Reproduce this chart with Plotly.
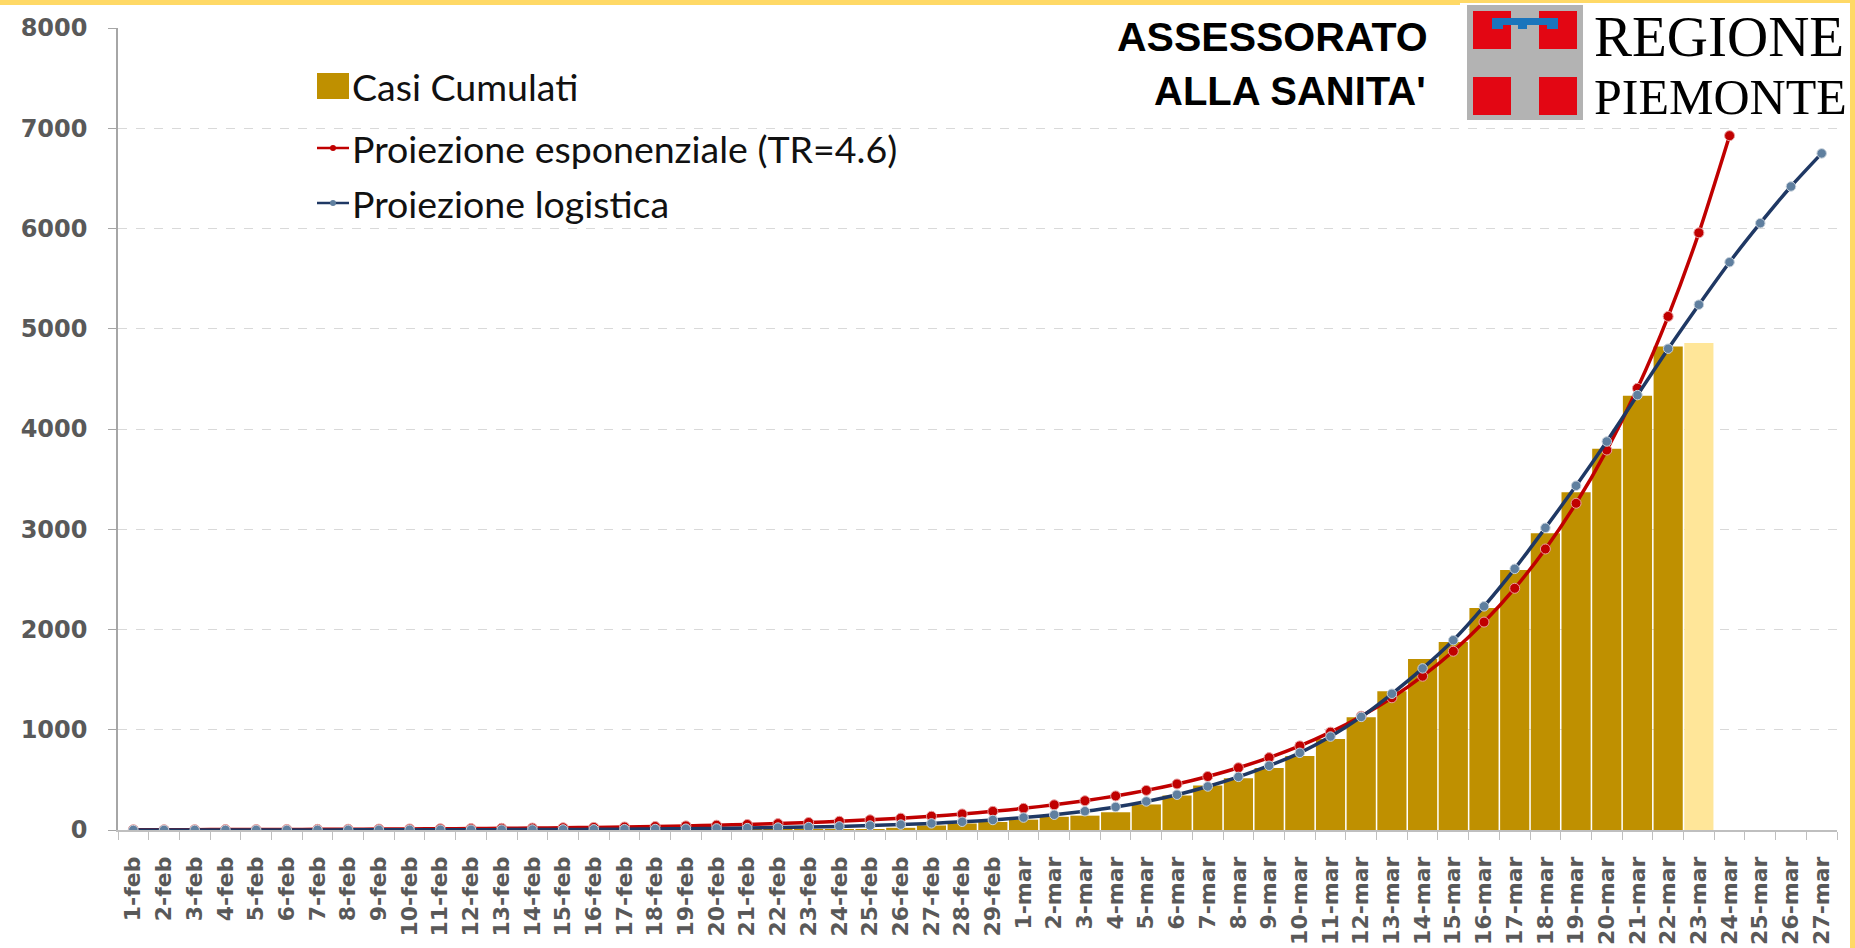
import plotly.graph_objects as go

# ---------------- data ----------------
dates = [
    "1-feb", "2-feb", "3-feb", "4-feb", "5-feb", "6-feb", "7-feb", "8-feb", "9-feb", "10-feb",
    "11-feb", "12-feb", "13-feb", "14-feb", "15-feb", "16-feb", "17-feb", "18-feb", "19-feb", "20-feb",
    "21-feb", "22-feb", "23-feb", "24-feb", "25-feb", "26-feb", "27-feb", "28-feb", "29-feb",
    "1-mar", "2-mar", "3-mar", "4-mar", "5-mar", "6-mar", "7-mar", "8-mar", "9-mar", "10-mar",
    "11-mar", "12-mar", "13-mar", "14-mar", "15-mar", "16-mar", "17-mar", "18-mar", "19-mar", "20-mar",
    "21-mar", "22-mar", "23-mar", "24-mar", "25-mar", "26-mar", "27-mar",
]

casi_cumulati = [
    0, 0, 0, 0, 0, 0, 0, 0, 0, 0,
    0, 0, 0, 0, 0, 0, 0, 0, 0, 0,
    1, 2, 3, 6, 10, 22, 45, 65, 80,
    103, 132, 143, 177, 255, 345, 445, 515, 619, 737,
    907, 1125, 1384, 1705, 1875, 2214, 2594, 2961, 3370, 3804,
    4331, 4822, 4858, None, None, None, None,
]

proiezione_esponenziale = [
    2.7, 3.2, 3.7, 4.3, 5.0, 5.8, 6.7, 7.8, 9.1, 10.6,
    12.3, 14.3, 16.6, 19.3, 22.5, 26, 30, 35, 41, 48,
    55, 64, 75, 87, 101, 118, 137, 160, 186,
    216, 251, 292, 340, 395, 459, 534, 621, 722, 839,
    976, 1135, 1319, 1534, 1783, 2074, 2411, 2803, 3259, 3790,
    4406, 5123, 5957, 6926, None, None, None,
]

proiezione_logistica = [
    0.3, 0.4, 0.5, 0.6, 0.7, 0.9, 1.0, 1.3, 1.6, 1.9,
    2.4, 2.9, 3.6, 4.5, 5.5, 6.7, 8.3, 10, 13, 16,
    19, 24, 29, 36, 44, 54, 66, 82, 100,
    124, 152, 187, 230, 285, 352, 434, 530, 641, 770,
    932, 1128, 1359, 1612, 1893, 2231, 2605, 3014, 3434, 3875,
    4338, 4801, 5240, 5664, 6053, 6419, 6749,
]

provisional_day = "23-mar"

legend_labels = ["Casi Cumulati", "Proiezione esponenziale (TR=4.6)", "Proiezione logistica"]
y_ticks = [0, 1000, 2000, 3000, 4000, 5000, 6000, 7000, 8000]

# ---------------- styles ----------------
GOLD = "#BF9000"
GOLD_LIGHT = "#FFE699"
RED = "#C00000"
NAVY = "#1F3864"
NAVY_MK = "#5F7F9F"
AXIS_TXT = "#595959"

W, H = 1855, 948
ML, MR, MT, MB = 118, 18, 28, 118
PW, PH = W - ML - MR, H - MT - MB


def px(x):
    return (x - ML) / PW


def py(y):
    return (H - MB - y) / PH


bar_colors = [GOLD_LIGHT if d == provisional_day else GOLD for d in dates]

fig = go.Figure()
fig.add_trace(go.Bar(
    x=dates, y=casi_cumulati, name=legend_labels[0],
    marker=dict(color=bar_colors, line=dict(width=0)),
))
fig.add_trace(go.Scatter(
    x=dates, y=proiezione_esponenziale, name=legend_labels[1], mode="lines+markers",
    line=dict(color=RED, width=3.5, shape="spline", smoothing=0.6),
    marker=dict(size=10, color=RED, line=dict(color="#E8A0A0", width=1)),
))
fig.add_trace(go.Scatter(
    x=dates, y=proiezione_logistica, name=legend_labels[2], mode="lines+markers",
    line=dict(color=NAVY, width=3.5, shape="spline", smoothing=0.6),
    marker=dict(size=9.5, color=NAVY_MK, line=dict(color="#C8D2DC", width=1)),
))

shapes = []
annotations = []

# yellow frame (top and right)
shapes.append(dict(type="rect", xref="paper", yref="paper", x0=px(0), x1=px(W), y0=py(5), y1=py(0),
                   fillcolor="#FFD966", line=dict(width=0), layer="above"))
shapes.append(dict(type="rect", xref="paper", yref="paper", x0=px(W - 5), x1=px(W), y0=py(H), y1=py(0),
                   fillcolor="#FFD966", line=dict(width=0), layer="above"))

# logo background
shapes.append(dict(type="rect", xref="paper", yref="paper", x0=px(1460), x1=px(W - 5), y0=py(123), y1=py(3),
                   fillcolor="white", line=dict(width=0), layer="above"))
# gray square
shapes.append(dict(type="rect", xref="paper", yref="paper", x0=px(1467), x1=px(1583), y0=py(120), y1=py(5),
                   fillcolor="#B3B3B3", line=dict(width=0), layer="above"))
for (x0, x1, y0, y1) in [(1473, 1511, 11, 49), (1539, 1577, 11, 49), (1473, 1511, 77, 115), (1539, 1577, 77, 115)]:
    shapes.append(dict(type="rect", xref="paper", yref="paper", x0=px(x0), x1=px(x1), y0=py(y1), y1=py(y0),
                       fillcolor="#E30613", line=dict(width=0), layer="above"))
blue_pts = [(1492, 18), (1558, 18), (1558, 29), (1547, 29), (1547, 25), (1527, 25), (1527, 29),
            (1518, 29), (1518, 25), (1503, 25), (1503, 29), (1492, 29)]
path = "M" + " L".join(f"{px(a):.5f},{py(b):.5f}" for a, b in blue_pts) + " Z"
shapes.append(dict(type="path", xref="paper", yref="paper", path=path,
                   fillcolor="#1B75BC", line=dict(width=0), layer="above"))

annotations.append(dict(text="REGIONE", xref="paper", yref="paper", x=px(1592), y=py(36),
                        xanchor="left", yanchor="middle", showarrow=False,
                        font=dict(family="Liberation Serif", size=57, color="black")))
annotations.append(dict(text="PIEMONTE", xref="paper", yref="paper", x=px(1592), y=py(97),
                        xanchor="left", yanchor="middle", showarrow=False,
                        font=dict(family="Liberation Serif", size=50, color="black")))
annotations.append(dict(text="ASSESSORATO", xref="paper", yref="paper", x=px(1430), y=py(37),
                        xanchor="right", yanchor="middle", showarrow=False,
                        font=dict(family="Liberation Sans", size=41, color="black", weight="bold")))
annotations.append(dict(text="ALLA SANITA'", xref="paper", yref="paper", x=px(1428), y=py(91),
                        xanchor="right", yanchor="middle", showarrow=False,
                        font=dict(family="Liberation Sans", size=40, color="black", weight="bold")))

# custom legend
leg_font = dict(family="Lato", size=37.5, color="#111111")
shapes.append(dict(type="rect", xref="paper", yref="paper", x0=px(317), x1=px(349), y0=py(99), y1=py(73),
                   fillcolor=GOLD, line=dict(width=0), layer="above"))
for yc, col, mcol in [(148, RED, RED), (203, NAVY, NAVY_MK)]:
    shapes.append(dict(type="line", xref="paper", yref="paper", x0=px(317), x1=px(349), y0=py(yc), y1=py(yc),
                       line=dict(color=col, width=2.5), layer="above"))
    shapes.append(dict(type="circle", xref="paper", yref="paper", x0=px(330), x1=px(336), y0=py(yc + 3), y1=py(yc - 3),
                       fillcolor=mcol, line=dict(width=0), layer="above"))
for lab, yc in zip(legend_labels, [86, 148, 203]):
    annotations.append(dict(text=lab, xref="paper", yref="paper", x=px(350), y=py(yc),
                            xanchor="left", yanchor="middle", showarrow=False, font=leg_font))

fig.update_layout(
    width=W, height=H,
    margin=dict(l=ML, r=MR, t=MT, b=MB, autoexpand=False),
    paper_bgcolor="white", plot_bgcolor="white",
    showlegend=False,
    bargap=0.05,
    shapes=shapes, annotations=annotations,
    xaxis=dict(
        type="category", categoryorder="array", categoryarray=dates,
        range=[-0.5, len(dates) - 0.5], autorange=False, automargin=False,
        tickangle=-90, tickfont=dict(family="DejaVu Sans", size=22, color=AXIS_TXT, weight="bold"),
        showline=True, linecolor="#BFBFBF", linewidth=1.5,
        ticks="outside", tickson="boundaries", ticklen=8, tickcolor="#BFBFBF",
        showgrid=False, ticklabelstandoff=16,
    ),
    yaxis=dict(
        range=[0, 8000], tickvals=y_ticks, automargin=False,
        tickfont=dict(family="DejaVu Sans", size=24, color=AXIS_TXT, weight="bold"),
        showline=True, linecolor="#A6A6A6", linewidth=1.5,
        ticks="outside", ticklen=8, tickcolor="#A6A6A6",
        showgrid=True, gridcolor="#D9D9D9", griddash="dash", gridwidth=1,
        zeroline=False, ticklabelstandoff=16,
    ),
)

fig.write_html("out.html", post_script="document.body.style.margin='0';",
               config={"displayModeBar": False})
